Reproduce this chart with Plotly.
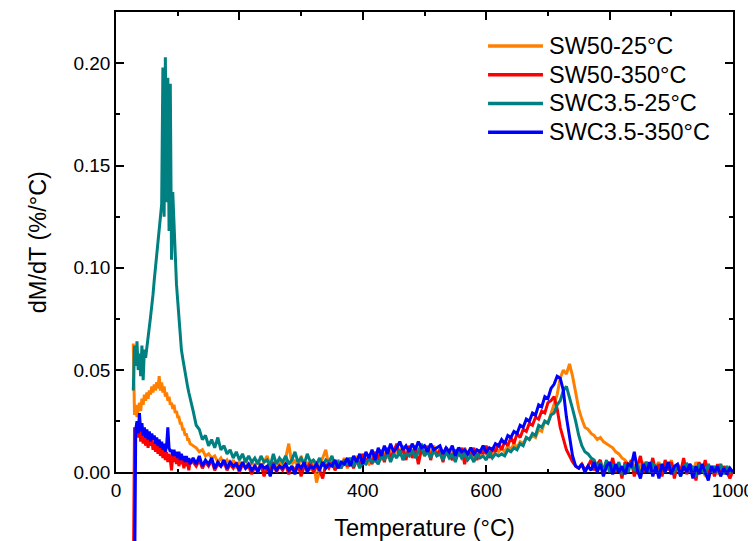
import plotly.graph_objects as go

# temperature grid (°C): 2 °C steps through the low-temperature peak, 5 °C after
temperature = list(range(28, 121, 2)) + list(range(125, 1001, 5))

# dM/dT values, in units of 1e-3 %/°C
sw50_25 = [
    63, 28, 33, 27, 31, 34, 30, 36, 33, 38, 35, 39, 36, 40, 38, 42, 39, 43, 40, 44,
    41, 47, 40, 44, 39, 42, 37, 39, 35, 37, 33, 34, 31, 33, 29, 30, 27, 27, 24, 24,
    21, 21, 18, 19, 16, 16, 14,
    13, 12, 10, 11, 8, 9, 7, 8, 5, 7,
    4, 6, 3, 6, 2, 5, 3, 7, 2, 5,
    3, 6, 2, 5, 8, 3, 5, 1, 6, 3,
    7, 14, 4, 6, 2, 8, 3, 5, 1, 6,
    -5, 4, 7, 11, 3, 5, 2, 6, 3, 7,
    2, 6, 4, 8, 3, 7, 5, 4, 8, 5,
    9, 6, 10, 7, 12, 8, 11, 9, 13, 8,
    11, 9, 13, 10, 12, 8, 11, 10, 13, 9,
    11, 8, 12, 9, 10, 7, 11, 8, 12, 9,
    10, 7, 11, 8, 12, 9, 10, 8, 12, 10,
    12, 10, 13, 11, 14, 12, 15, 14, 17, 16,
    18, 17, 21, 20, 25, 24, 29, 33, 38, 46,
    50, 48, 53, 47, 38, 31, 26, 22, 21, 19,
    18, 16, 17, 15, 14, 13, 12, 10, 9, 7,
    6, 4, 5, 3, 4, 2, 5, 1, 3, 0,
    3, 5, 0, 4, 1, 6, 0, 4, 1, 5,
    0, 4, -1, 5, 1, 4, -2, 4, 0, 3,
    -1, 4, 0, 3, -2, 1,
]
sw50_350 = [
    -60, 22, 18, 24, 17, 21, 15, 20, 14, 19, 13, 18, 12, 17, 13, 16, 11, 15, 10, 14,
    9, 13, 8, 12, 7, 11, 6, 10, 5, 9, 6, 1, 8, 5, 9, 4, 8, 3, 7, 4,
    6, 2, 6, 3, 5, 1, 5,
    5, 3, 6, 2, 5, 3, 6, 1, 4, 3,
    5, 1, 4, 2, 5, 0, 4, 2, 3, -1,
    3, 1, 4, -2, 3, 1, 5, 0, 3, 1,
    4, -1, 3, 1, 4, -2, 3, 2, 5, 0,
    3, 1, -3, 4, 2, 5, 1, 4, 2, 6,
    3, 7, 2, 6, 4, 9, 5, 8, 4, 10,
    6, 11, 5, 12, 7, 10, 14, 8, 12, 6,
    13, 7, 12, 4, 11, 9, 13, 6, 12, 8,
    11, 5, 12, 9, 6, 11, 8, 12, 4, 10,
    8, 12, 6, 11, 9, 13, 7, 12, 10, 14,
    11, 15, 13, 17, 14, 19, 17, 21, 20, 24,
    23, 27, 26, 30, 29, 34, 35, 37, 31, 22,
    16, 11, 8, 5, 3, 2, 4, 1, 3, 6,
    1, 4, 6, -1, 5, 1, 7, 0, 4, -3,
    5, 1, 6, -2, 3, 8, 0, 5, 1, 7,
    0, 4, -2, 6, 1, 5, -3, 4, 0, 7,
    -1, 4, 2, -4, 5, 0, 6, -1, 3, -2,
    4, -1, 3, 0, -3, 1,
]
swc35_25 = [
    40, 62, 52, 64, 50, 58, 47, 62, 45, 60, 56, 62, 66, 71, 76, 81, 87, 94, 100, 106,
    112, 117, 123, 131, 198, 125, 203, 132, 193, 118, 190, 104, 137, 121, 102, 92, 84, 74, 65, 60,
    56, 52, 49, 45, 42, 39, 36,
    30, 23, 21, 16, 18, 13, 16, 12, 17, 11,
    13, 9, 11, 7, 10, 6, 9, 5, 8, 5,
    7, 4, 8, 5, 6, 3, 9, 4, 7, 5,
    8, 4, 6, 10, 5, 7, 4, 9, 5, 6,
    4, 7, 3, 6, 5, 8, 3, 5, 2, 6,
    4, 7, 3, 6, 2, 5, 4, 7, 5, 6,
    4, 8, 6, 10, 5, 9, 7, 11, 6, 9,
    8, 11, 7, 10, 14, 8, 10, 7, 11, 8,
    9, 6, 10, 7, 9, 5, 10, 7, 9, 6,
    8, 5, 9, 7, 8, 6, 10, 7, 9, 8,
    9, 8, 11, 10, 12, 11, 14, 13, 17, 16,
    19, 18, 23, 22, 25, 24, 28, 29, 33, 35,
    40, 42, 37, 31, 25, 18, 13, 10, 9, 7,
    6, 2, 5, 1, 6, 0, 4, 1, 5, -1,
    4, 0, 5, 1, 4, -1, 3, 5, 0, 4,
    3, -1, 4, 0, 5, 1, 0, 4, -2, 3,
    4, 0, 3, -2, 4, 1, -1, 4, 0, 3,
    0, 4, -1, 3, 0, 1,
]
swc35_350 = [
    None, -60, 21, 25, 19, 29, 20, 24, 18, 22, 17, 21, 16, 20, 15, 19, 16, 18, 14, 17,
    13, 16, 12, 15, 11, 14, 10, 13, 22, 12, 10, 11, 8, 11, 8, 10, 7, 10, 6, 9,
    6, 8, 5, 8, 5, 7, 4,
    7, 4, 8, 3, 6, 4, 7, 2, 5, 3,
    6, 2, 5, 3, 4, 1, 5, 2, 4, 1,
    3, 0, 4, 2, 3, -2, 4, 1, 3, 2,
    4, 1, 3, -1, 4, 2, 5, 0, 3, 2,
    4, 1, 5, 2, 4, 3, 6, 2, 5, 4,
    7, 3, 8, 5, 9, 4, 10, 7, 11, 6,
    12, 8, 13, 9, 14, 10, 12, 15, 11, 13,
    10, 14, 11, 15, 12, 13, 10, 14, 11, 12,
    13, 9, 12, 10, 13, 8, 12, 10, 11, 9,
    12, 9, 11, 10, 13, 10, 12, 11, 14, 13,
    16, 14, 18, 17, 20, 19, 23, 22, 26, 25,
    29, 28, 33, 32, 37, 36, 41, 43, 47, 46,
    40, 27, 17, 8, 3, 2, 4, 0, 3, 1,
    5, 0, 4, -2, 3, 5, -1, 4, 0, 3,
    -1, 4, 3, 10, 1, -3, 4, 0, 5, -2,
    3, -3, 4, 0, 5, -1, 3, 4, -2, 3,
    0, 4, -3, 3, -1, 4, 0, -4, 3, 0,
    3, -2, 2, -1, 2, 0,
]

names = ["SW50-25°C", "SW50-350°C", "SWC3.5-25°C", "SWC3.5-350°C"]
colors = ["#FF8000", "#FF0000", "#008080", "#0000FF"]
series = [sw50_25, sw50_350, swc35_25, swc35_350]

for s in series:
    assert len(s) == len(temperature), len(s)

# the page body has an 8 px margin, so the figure is shrunk by that much
W, H = 748, 533
y_top = 0.2251
y_low = -0.0336   # strip under the frame where the curves dip below zero
split = -y_low / (y_top - y_low)

font = "Arial, Liberation Sans, sans-serif"

fig = go.Figure()
for name, color, s in zip(names, colors, series):
    y = [None if v is None else v / 1000 for v in s]
    fig.add_trace(
        go.Scatter(x=temperature, y=y, name=name, mode="lines", showlegend=False,
                   line=dict(color=color, width=3), xaxis="x", yaxis="y")
    )
    fig.add_trace(
        go.Scatter(x=temperature, y=y, name=name, mode="lines", showlegend=False,
                   line=dict(color=color, width=3), xaxis="x2", yaxis="y2")
    )

# legend drawn as line samples + labels (long sample lines as in the original)
shapes = []
annotations = []
for i, (name, color) in enumerate(zip(names, colors)):
    yy = 0.9357 - i * 0.0543
    shapes.append(dict(type="line", xref="paper", yref="paper", x0=0.603, x1=0.692,
                       y0=yy, y1=yy, line=dict(color=color, width=3.5)))
    annotations.append(dict(text=name, xref="paper", yref="paper", x=0.698, y=yy,
                            xanchor="left", yanchor="middle", showarrow=False,
                            font=dict(size=23.5, color="black")))

fig.update_layout(
    width=W,
    height=H,
    margin=dict(l=108, r=23, t=4, b=0),
    paper_bgcolor="white",
    plot_bgcolor="white",
    font=dict(family=font, size=19, color="black"),
    showlegend=False,
    shapes=shapes,
    annotations=annotations,
    xaxis=dict(
        domain=[0, 1],
        anchor="y",
        range=[0, 1000],
        dtick=200,
        ticks="inside",
        ticklen=8,
        tickwidth=1.5,
        tickcolor="black",
        tickfont=dict(size=19),
        ticklabeloverflow="allow",
        minor=dict(dtick=100, ticks="inside", ticklen=4, tickwidth=1.5, tickcolor="black"),
        showline=True,
        linecolor="black",
        linewidth=1.5,
        mirror="allticks",
        showgrid=False,
        zeroline=False,
        automargin=False,
        layer="below traces",
        title=dict(text="Temperature (°C)", font=dict(size=23.5), standoff=20),
    ),
    yaxis=dict(
        domain=[split, 1],
        anchor="x",
        range=[0, y_top],
        dtick=0.05,
        tickformat=".2f",
        ticks="inside",
        ticklen=8,
        tickwidth=1.5,
        tickcolor="black",
        tickfont=dict(size=19),
        minor=dict(dtick=0.025, ticks="inside", ticklen=4, tickwidth=1.5, tickcolor="black"),
        showline=True,
        linecolor="black",
        linewidth=1.5,
        mirror="allticks",
        showgrid=False,
        zeroline=False,
        automargin=False,
        title=dict(text="dM/dT (%/°C)", font=dict(size=23.5), standoff=20),
    ),
    xaxis2=dict(matches="x", anchor="y2", domain=[0, 1], visible=False),
    yaxis2=dict(domain=[0, split], anchor="x2", range=[y_low, 0], visible=False),
)

fig.write_html("out.html")
